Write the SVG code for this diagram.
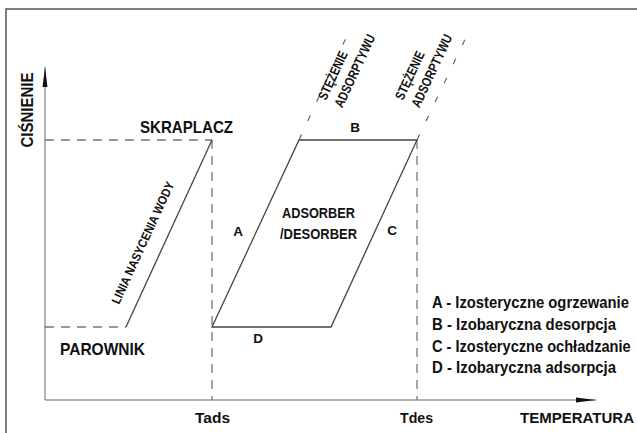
<svg xmlns="http://www.w3.org/2000/svg" width="637" height="433" viewBox="0 0 637 433">
<style>
text{font-family:"Liberation Sans",Arial,sans-serif;font-weight:bold;fill:#111;}
.axis{stroke:#999;stroke-width:1.5;fill:none;}
.dash{stroke:#777;stroke-width:1.3;stroke-dasharray:9 7;fill:none;}
.sdash{stroke:#666;stroke-width:1.2;stroke-dasharray:6 15;fill:none;}
.solid{stroke:#444;stroke-width:1.3;fill:none;}
.frame{stroke:#555;stroke-width:1.5;fill:none;}
</style>
<defs>
<marker id="arr" viewBox="0 0 20 8" refX="20" refY="4" markerWidth="20" markerHeight="8" markerUnits="userSpaceOnUse" orient="auto">
<path d="M0,1.5 L20,4 L0,6.5 Z" fill="#111"/>
</marker>
</defs>
<rect width="637" height="433" fill="#fff"/>
<path class="frame" d="M6,433 V9 H637"/>
<g id="axes">
<line class="axis" x1="45" y1="400" x2="45" y2="67" marker-end="url(#arr)"/>
<line class="axis" x1="45" y1="400" x2="596" y2="400" marker-end="url(#arr)"/>
</g>
<g id="connectors">
<path class="dash" d="M45,140 H212"/>
<path class="dash" d="M212,140 V400"/>
<path class="dash" d="M45,327 H126"/>
<path class="dash" d="M417,140 V400"/>
<path class="solid" d="M126,327 L212,140"/>
<path class="solid" d="M212,327 L299,140 L417,140 L331,327 Z"/>
<path class="sdash" d="M299,140 L351,27"/>
<path class="sdash" d="M417,140 L471,27"/>
</g>
<g id="axis-labels">
<text transform="translate(33,110) rotate(-90)" text-anchor="middle" font-size="17" textLength="75" lengthAdjust="spacingAndGlyphs">CIŚNIENIE</text>
<text x="195" y="423" font-size="15.5" textLength="35" lengthAdjust="spacingAndGlyphs">Tads</text>
<text x="400" y="423" font-size="15.5" textLength="33" lengthAdjust="spacingAndGlyphs">Tdes</text>
<text x="520" y="423" font-size="15.5" textLength="114" lengthAdjust="spacingAndGlyphs">TEMPERATURA</text>
</g>
<g id="skraplacz"><text x="140" y="133" font-size="17" textLength="93" lengthAdjust="spacingAndGlyphs">SKRAPLACZ</text></g>
<g id="parownik"><text x="60" y="355" font-size="17" textLength="85" lengthAdjust="spacingAndGlyphs">PAROWNIK</text></g>
<g id="linia"><text transform="translate(119,305) rotate(-65.3)" font-size="12.5" textLength="133" lengthAdjust="spacingAndGlyphs">LINIA NASYCENIA WODY</text></g>
<g id="stezenie1"><text transform="translate(326,101) rotate(-65)" font-size="13.5"><tspan x="0" y="0" textLength="52" lengthAdjust="spacingAndGlyphs">STĘŻENIE</tspan><tspan x="0" y="18" textLength="79" lengthAdjust="spacingAndGlyphs">ADSORPTYWU</tspan></text></g>
<g id="stezenie2"><text transform="translate(403,101) rotate(-65)" font-size="13.5"><tspan x="0" y="0" textLength="52" lengthAdjust="spacingAndGlyphs">STĘŻENIE</tspan><tspan x="0" y="18" textLength="79" lengthAdjust="spacingAndGlyphs">ADSORPTYWU</tspan></text></g>
<g id="adsorber"><text font-size="15.5"><tspan x="282" y="218" textLength="73" lengthAdjust="spacingAndGlyphs">ADSORBER</tspan><tspan x="280" y="239" textLength="77" lengthAdjust="spacingAndGlyphs">/DESORBER</tspan></text></g>
<g id="labels">
<text x="238" y="236" text-anchor="middle" font-size="13.5">A</text>
<text x="355" y="132" text-anchor="middle" font-size="13.5">B</text>
<text x="392" y="235" text-anchor="middle" font-size="13.5">C</text>
<text x="258" y="343" text-anchor="middle" font-size="13.5">D</text>
</g>
<g id="legend" font-size="16" transform="translate(432,0) scale(0.86,1)">
<text x="0" y="308" textLength="229" lengthAdjust="spacingAndGlyphs">A - Izosteryczne ogrzewanie</text>
<text x="0" y="330" textLength="214" lengthAdjust="spacingAndGlyphs">B - Izobaryczna desorpcja</text>
<text x="0" y="352" textLength="231" lengthAdjust="spacingAndGlyphs">C - Izosteryczne ochładzanie</text>
<text x="0" y="373" textLength="214" lengthAdjust="spacingAndGlyphs">D - Izobaryczna adsorpcja</text>
</g>
</svg>
